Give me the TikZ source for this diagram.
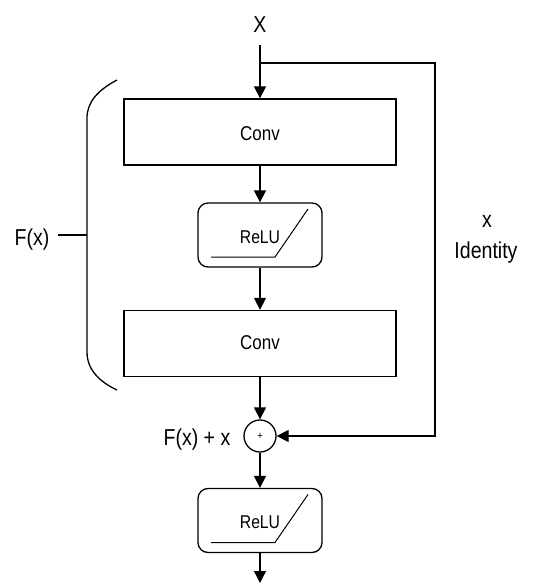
\documentclass[tikz,border=0pt]{standalone}
\usepackage{fontspec}
\setmainfont[FakeStretch=0.85]{Liberation Sans}
\usetikzlibrary{arrows.meta}
\begin{document}
\begin{tikzpicture}[x=1pt,y=-1pt,
  line width=1.3pt,
  conn/.style={-{Triangle[length=12pt,width=12pt]}},
  convbox/.style={draw,minimum width=272pt,minimum height=66pt,inner sep=0pt},
  relubox/.style={draw,rounded corners=10pt,minimum width=124pt,minimum height=64pt,
    inner sep=0pt},
  boxtxt/.style={anchor=base,inner sep=0pt,font=\fontsize{20}{24}\selectfont},
  relutxt/.style={anchor=base,inner sep=0pt,font=\fontsize{18.5}{22}\selectfont},
  lbl/.style={font=\fontsize{23}{27}\selectfont,inner sep=0pt,anchor=base},
  sumnode/.style={draw,circle,minimum size=32pt,inner sep=0pt,
    font=\fontsize{11}{12}\selectfont}]
\useasboundingbox (0,0) rectangle (559,583);

% main column
\node[lbl] (xin) at (260,33) {X};
\coordinate (split) at (260,63);
\coordinate (corner) at (435,63);
\node[convbox] (conv1) at (260,132) {};
\node[boxtxt] (conv1t) at (260,140) {Conv};
\node[relubox] (relu1) at (260,235) {};
\node[relutxt] (relu1t) at (260,243) {ReLU};
\node[convbox] (conv2) at (260,343.5) {};
\node[boxtxt] (conv2t) at (260,349) {Conv};
\node[sumnode] (plus) at (260,436) {+};
\node[relubox] (relu2) at (260,520.5) {};
\node[relutxt] (relu2t) at (260,528) {ReLU};
\coordinate (out) at (260,583);

% ReLU glyphs
\draw[line width=1pt] (211,257) -- (275,257) -- (308,209);
\draw[line width=1pt] (211,542.5) -- (275,542.5) -- (308,494.5);

% connectors
\draw (260,45) -- (split);
\draw[conn] (split) -- (conv1);
\draw[conn] (conv1) -- (relu1);
\draw[conn] (relu1) -- (conv2);
\draw[conn] (conv2) -- (plus);
\draw[conn] (plus) -- (relu2);
\draw[conn] (relu2) -- (out);
\draw[conn] (split) -- (corner) |- (plus);

% residual-function brace
\draw (117,80) .. controls (98,90) and (87,102) .. (87,118) -- (87,352)
  .. controls (87,370) and (100,382) .. (117,390);
\coordinate (brmid) at (87,235);
\node[lbl,anchor=base east] (fx) at (50,245) {F(x)};
\draw (58,235) -- (brmid);

% labels
\node[lbl,anchor=base east] (sumlbl) at (231,445) {F(x) + x};
\node[lbl] (idx) at (487,227) {x};
\node[lbl] (ident) at (486,258) {Identity};
\end{tikzpicture}
\end{document}
